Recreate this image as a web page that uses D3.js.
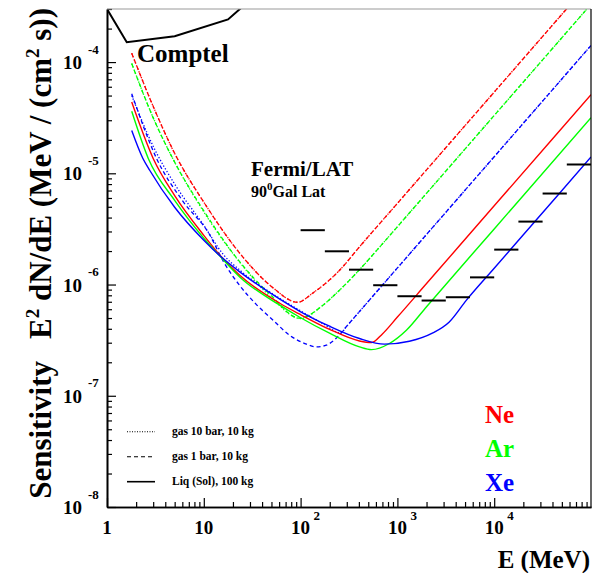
<!DOCTYPE html>
<html>
<head>
<meta charset="utf-8">
<script src="https://cdn.jsdelivr.net/npm/d3@7/dist/d3.min.js"></script>
<style>
  body { margin: 0; background: #fff; }
  svg { display: block; }
  text { font-family: "Liberation Serif", "Times New Roman", Times, serif; font-weight: bold; fill: #000; }
</style>
</head>
<body>
<svg id="chart" width="604" height="573"></svg>
<script>
// ---- axis ranges and tick labels ----
const energyRange = [1, 1e5];          // MeV
const sensRange = [1e-8, 3e-4];        // MeV / (cm^2 s)
const xTickExponents = [0, 1, 2, 3, 4];
const yTickExponents = [-8, -7, -6, -5, -4];

// ---- sensitivity curves: [E (MeV), E^2 dN/dE] ----
// Ne
const neGas1bar = [[1.8,1.2e-4],[3,4.0e-5],[5,1.51e-5],[10,5.5e-6],[26,1.72e-6],[51,9.46e-7],[93,6.93e-7],[133,8.36e-7],[252,1.34e-6],[400,2.15e-6],[1000,5.37e-6],[1e4,5.37e-5],[1e5,5.37e-4]];
const neGas10bar = [[1.8,1.2e-4],[3,4.0e-5],[5,1.51e-5],[10,5.5e-6],[26,1.72e-6],[51,9.46e-7],[93,6.93e-7],[133,8.36e-7],[252,1.34e-6],[400,2.15e-6],[1000,5.37e-6],[1e4,5.37e-5],[1e5,5.37e-4]];
const neLiquid = [[1.8,4.37e-5],[3,1.36e-5],[5,6.3e-6],[10,2.77e-6],[15.7,1.72e-6],[23.5,1.21e-6],[61,6.79e-7],[98,5.41e-7],[199,3.96e-7],[406,3.11e-7],[540,3.01e-7],[700,3.6e-7],[1000,5.1e-7],[2000,1.02e-6],[1e4,5.1e-6],[1e5,5.1e-5]];
// Ar
const arGas1bar = [[1.8,9.7e-5],[3,3.16e-5],[5,1.26e-5],[10,4.6e-6],[22,1.72e-6],[48,8.2e-7],[98,4.98e-7],[170,6.52e-7],[252,8.89e-7],[406,1.36e-6],[600,1.99e-6],[1000,3.31e-6],[1e4,3.31e-5],[1e5,3.31e-4]];
const arGas10bar = [[1.8,9.7e-5],[3,3.16e-5],[5,1.26e-5],[10,4.5e-6],[24,1.55e-6],[50,7.6e-7],[100,4.95e-7],[170,6.52e-7],[252,8.89e-7],[406,1.36e-6],[600,1.99e-6],[1000,3.31e-6],[1e4,3.31e-5],[1e5,3.31e-4]];
const arLiquid = [[1.8,3.61e-5],[2.67,1.36e-5],[5,5.71e-6],[10,2.61e-6],[15.7,1.69e-6],[23.5,1.17e-6],[61,6.52e-7],[98,5.08e-7],[199,3.65e-7],[406,2.75e-7],[540,2.6e-7],[827,2.95e-7],[1238,3.88e-7],[2000,6.32e-7],[1e4,3.16e-6],[1e5,3.16e-5]];
// Xe
const xeGas1bar = [[1.8,5.2e-5],[3.25,1.36e-5],[6,5.7e-6],[11.5,2.8e-6],[16,1.6e-6],[23.5,9.8e-7],[35,6.6e-7],[52,4.78e-7],[77,3.5e-7],[115,2.91e-7],[145,2.75e-7],[184,2.85e-7],[233,3.29e-7],[300,4.23e-7],[500,7.05e-7],[1000,1.41e-6],[1e4,1.41e-5],[1e5,1.41e-4]];
const xeGas10bar = [[1.8,5.0e-5],[3,1.75e-5],[5,8.0e-6],[10,3.4e-6],[16,1.85e-6],[24,1.33e-6],[61,7.5e-7],[98,5.85e-7],[170,4.45e-7],[260,3.67e-7],[300,4.23e-7],[500,7.05e-7],[1000,1.41e-6],[1e4,1.41e-5],[1e5,1.41e-4]];
const xeLiquid = [[1.8,2.43e-5],[2.35,1.36e-5],[2.77,1.06e-5],[5,4.95e-6],[10,2.5e-6],[15.7,1.72e-6],[23.5,1.3e-6],[61,7.38e-7],[98,5.75e-7],[199,4.22e-7],[406,3.27e-7],[735,2.91e-7],[1330,3.09e-7],[2296,3.65e-7],[3436,4.61e-7],[5143,7.2e-7],[1e4,1.4e-6],[2e4,2.8e-6],[1e5,1.4e-5]];

// COMPTEL sensitivity
const comptel = [[1,3.0e-4],[1.6,1.51e-4],[5,1.71e-4],[17.8,2.42e-4],[30,3.6e-4]];

// Fermi/LAT, 90 deg galactic latitude: quarter-decade bins
const fermiBinEdges = [100,178,316,562,1000,1778,3162,5623,10000,17783,31623,56234,100000];
const fermiValues = [3.08e-6,1.99e-6,1.36e-6,9.86e-7,7.85e-7,7.18e-7,7.69e-7,1.16e-6,2.06e-6,3.68e-6,6.58e-6,1.2e-5];

const gasNames = ["Ne", "Ar", "Xe"];
const gasColors = ["#ff0000", "#00ff00", "#0000ff"];
const legendLabels = ["gas 10 bar, 10 kg", "gas 1 bar, 10 kg", "Liq (Sol), 100 kg"];

// ---- layout ----
const svg = d3.select("#chart");
const plot = { left: 107, right: 591, top: 9, bottom: 507 };

const x = d3.scaleLog().domain(energyRange).range([plot.left, plot.right]);
const y = d3.scaleLog().domain(sensRange).range([plot.bottom, plot.top]);

const dashStyle = { dotted: "1.3,1.9", dashed: "4,3", solid: null };

svg.append("defs").append("clipPath").attr("id", "plotClip")
  .append("rect")
  .attr("x", plot.left).attr("y", plot.top)
  .attr("width", plot.right - plot.left).attr("height", plot.bottom - plot.top);

const g = svg.append("g").attr("clip-path", "url(#plotClip)");

const line = d3.line()
  .x(d => x(d[0]))
  .y(d => y(d[1]))
  .curve(d3.curveMonotoneX);

const series = [
  { data: neGas1bar, color: gasColors[0], style: "dashed" },
  { data: neGas10bar, color: gasColors[0], style: "dotted" },
  { data: arGas1bar, color: gasColors[1], style: "dashed" },
  { data: arGas10bar, color: gasColors[1], style: "dotted" },
  { data: xeGas1bar, color: gasColors[2], style: "dashed" },
  { data: xeGas10bar, color: gasColors[2], style: "dotted" },
  { data: neLiquid, color: gasColors[0], style: "solid" },
  { data: arLiquid, color: gasColors[1], style: "solid" },
  { data: xeLiquid, color: gasColors[2], style: "solid" }
];

g.selectAll("path.curve")
  .data(series)
  .join("path")
  .attr("class", "curve")
  .attr("d", s => line(s.data))
  .attr("fill", "none")
  .attr("stroke", s => s.color)
  .attr("stroke-width", s => s.style === "solid" ? 1.4 : 1.3)
  .attr("stroke-dasharray", s => dashStyle[s.style]);

// COMPTEL
g.append("path")
  .attr("d", d3.line().x(d => x(d[0])).y(d => y(d[1]))(comptel))
  .attr("fill", "none")
  .attr("stroke", "#000")
  .attr("stroke-width", 2);

// Fermi/LAT bins
g.selectAll("line.fermi")
  .data(fermiValues)
  .join("line")
  .attr("class", "fermi")
  .attr("x1", (v, i) => x(fermiBinEdges[i]))
  .attr("x2", (v, i) => x(fermiBinEdges[i + 1]))
  .attr("y1", v => y(v))
  .attr("y2", v => y(v))
  .attr("stroke", "#000")
  .attr("stroke-width", 2);

// ---- axes ----
const xMajor = xTickExponents.map(e => Math.pow(10, e));
const xMinor = [];
for (let e = 0; e < 5; e++) for (let k = 2; k <= 9; k++) xMinor.push(k * Math.pow(10, e));
const yMajor = yTickExponents.map(e => Math.pow(10, e));
const yMinor = [];
for (let e = -8; e <= -4; e++) for (let k = 2; k <= 9; k++) {
  const v = k * Math.pow(10, e);
  if (v <= sensRange[1] * 1.0001) yMinor.push(v);
}

function styleAxis(sel) {
  sel.selectAll("line").attr("stroke", "#000").attr("stroke-width", 1.2);
  sel.select(".domain").attr("stroke", "#000").attr("stroke-width", 1.6);
}

svg.append("g").attr("transform", `translate(0,${plot.bottom})`)
  .call(d3.axisBottom(x).tickValues(xMinor).tickSize(-5).tickSizeOuter(0).tickFormat(""))
  .call(styleAxis);
svg.append("g").attr("transform", `translate(0,${plot.bottom})`)
  .call(d3.axisBottom(x).tickValues(xMajor).tickSize(-9).tickSizeOuter(0).tickFormat(""))
  .call(styleAxis);
svg.append("g").attr("transform", `translate(${plot.left},0)`)
  .call(d3.axisLeft(y).tickValues(yMinor).tickSize(-5).tickSizeOuter(0).tickFormat(""))
  .call(styleAxis);
svg.append("g").attr("transform", `translate(${plot.left},0)`)
  .call(d3.axisLeft(y).tickValues(yMajor).tickSize(-9).tickSizeOuter(0).tickFormat(""))
  .call(styleAxis);

// frame: top and right
svg.append("line").attr("x1", plot.left).attr("x2", plot.right).attr("y1", plot.top).attr("y2", plot.top)
  .attr("stroke", "#999").attr("stroke-width", 1);
svg.append("line").attr("x1", plot.right).attr("x2", plot.right).attr("y1", plot.top).attr("y2", plot.bottom)
  .attr("stroke", "#000").attr("stroke-width", 1.2);

// x tick labels
xTickExponents.forEach(e => {
  const px = x(Math.pow(10, e));
  if (e === 0) {
    svg.append("text").attr("x", px).attr("y", 534).attr("text-anchor", "middle")
      .style("font-size", "19px").text("1");
  } else {
    svg.append("text").attr("x", px).attr("y", 534).attr("text-anchor", "middle")
      .style("font-size", "19px").text("10");
    if (e > 1) {
      svg.append("text").attr("x", px + 13).attr("y", 520)
        .style("font-size", "13px").text(String(e));
    }
  }
});

// y tick labels
yTickExponents.forEach(e => {
  const py = y(Math.pow(10, e));
  svg.append("text").attr("x", 82).attr("y", py + 7).attr("text-anchor", "end")
    .style("font-size", "19px").text("10");
  svg.append("text").attr("x", 88).attr("y", py - 8.5)
    .style("font-size", "13px").text(String(e));
});

// axis titles
svg.append("text").attr("x", 590).attr("y", 568).attr("text-anchor", "end")
  .style("font-size", "25px").text("E (MeV)");

const yTitle = svg.append("text")
  .attr("transform", "translate(51,8) rotate(-90)")
  .attr("text-anchor", "end")
  .style("font-size", "31px");
yTitle.append("tspan").text("Sensitivity");
yTitle.append("tspan").attr("dx", 22).text("E");
yTitle.append("tspan").attr("dy", -12).style("font-size", "19px").text("2");
yTitle.append("tspan").attr("dy", 12).text(" dN/dE (MeV / (cm");
yTitle.append("tspan").attr("dy", -12).style("font-size", "19px").text("2");
yTitle.append("tspan").attr("dy", 12).text(" s))");

// annotations
svg.append("text").attr("x", 137).attr("y", 62).style("font-size", "25px").text("Comptel");
svg.append("text").attr("x", 251).attr("y", 176).style("font-size", "21px").text("Fermi/LAT");
const lat = svg.append("text").attr("x", 251).attr("y", 197).style("font-size", "16px");
lat.append("tspan").text("90");
lat.append("tspan").attr("dy", -7).style("font-size", "11px").text("0");
lat.append("tspan").attr("dy", 7).text("Gal Lat");

// gas labels
gasNames.forEach((n, i) => {
  svg.append("text").attr("x", 485).attr("y", 422.7 + i * 34)
    .style("font-size", "25px").style("fill", gasColors[i]).text(n);
});

// line-style legend
const legendStyles = ["dotted", "dashed", "solid"];
legendStyles.forEach((s, i) => {
  const ly = 431.7 + i * 25;
  svg.append("line").attr("x1", 127).attr("x2", 155).attr("y1", ly).attr("y2", ly)
    .attr("stroke", "#000").attr("stroke-width", s === "solid" ? 1.6 : 1.1)
    .attr("stroke-dasharray", s === "dotted" ? "1,1.5" : dashStyle[s]);
  svg.append("text").attr("x", 172).attr("y", ly + 3.5)
    .style("font-size", "11.5px").text(legendLabels[i]);
});
</script>
</body>
</html>
